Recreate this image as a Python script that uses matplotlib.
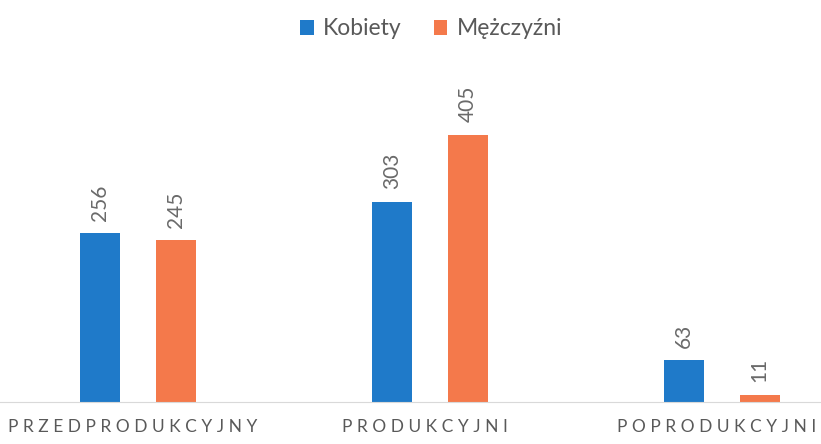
import numpy as np
import matplotlib.pyplot as plt
import matplotlib.transforms as mtransforms

categories = ['PRZEDPRODUKCYJNY', 'PRODUKCYJNI', 'POPRODUKCYJNI']
kobiety = [256, 303, 63]
mezczyzni = [245, 405, 11]
series_names = ['Kobiety', 'Mężczyźni']

blue = '#1F7AC9'
orange = '#F4794B'
grey = '#595959'

plt.rcParams['font.family'] = ['Lato', 'DejaVu Sans']

fig = plt.figure(figsize=(8.21, 4.44), dpi=100)
ax = fig.add_axes([0, 0.0946, 1, 0.669])

x = np.arange(len(categories))
w = 0.137
off = 0.129
b1 = ax.bar(x - off, kobiety, w, color=blue, label=series_names[0])
b2 = ax.bar(x + off, mezczyzni, w, color=orange, label=series_names[1])

for bars in (b1, b2):
    for rect in bars:
        h = rect.get_height()
        ax.annotate(str(int(h)), (rect.get_x() + rect.get_width() / 2, h),
                    xytext=(0, 9), textcoords='offset points',
                    rotation=90, ha='center', va='bottom',
                    fontsize=15, color='#6a6a6a')

ax.set_xlim(-0.4726, 2.339)
ax.set_ylim(0, 450)
for s in ['top', 'right', 'left']:
    ax.spines[s].set_visible(False)
ax.spines['bottom'].set_color('#D9D9D9')
ax.set_yticks([])
ax.set_xticks(x)
ax.set_xticklabels([' '.join(c) for c in categories], fontsize=12.5, color=grey)
ax.tick_params(axis='x', length=0, pad=12)
shift = mtransforms.ScaledTranslation(-5 / 100, 0, fig.dpi_scale_trans)
for lbl in ax.get_xticklabels():
    lbl.set_transform(lbl.get_transform() + shift)

fig.legend(handles=[b1, b2], loc='center', bbox_to_anchor=(0.525, 0.935),
           ncol=2, frameon=False, fontsize=16.5, handlelength=0.6,
           handleheight=0.6, columnspacing=1.4, handletextpad=0.4,
           labelcolor=grey)

fig.savefig('out.png', dpi=100)
